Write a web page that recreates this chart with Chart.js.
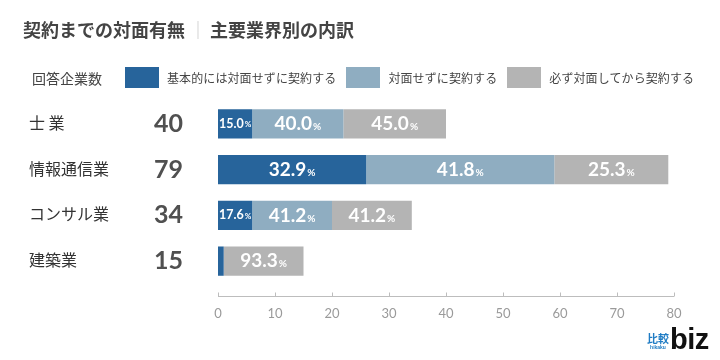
<!DOCTYPE html>
<html>
<head>
<meta charset="utf-8">
<script src="https://cdn.jsdelivr.net/npm/chart.js@4.4.0/dist/chart.umd.min.js"></script>
<style>
  body { margin: 0; background: #fff; }
  #wrap { position: relative; width: 720px; height: 360px; font-family: "Noto Sans CJK JP", sans-serif; }
  #chart { position: absolute; left: 0; top: 0; }
  .title { position: absolute; left: 23px; top: 16px; font-size: 18px; font-weight: bold; color: #444; white-space: nowrap; }
  .title .sep { color: #ccc; font-weight: normal; margin: 0 3px 0 4px; }
  .legend { position: absolute; left: 32px; top: 66px; height: 23px; display: flex; align-items: center; color: #444; white-space: nowrap; }
  .legend .head { font-size: 14px; margin-right: 23px; }
  .legend .box { width: 34px; height: 21px; margin-right: 8px; }
  .legend .txt { font-size: 12px; margin-right: 10px; letter-spacing: 0.1px; }
  .logo { position: absolute; left: 647px; top: 328px; display: flex; align-items: flex-end; }
  .logo .hk { display: flex; flex-direction: column; align-items: center; color: #1f7cc4; font-weight: bold; margin-right: 1px; }
  .logo .hk .kj { font-size: 11px; line-height: 11px; }
  .logo .hk .rm { font-size: 5px; line-height: 6px; font-family: Arial, sans-serif; }
  .logo .bz { font-family: "Liberation Sans", Arial, sans-serif; font-weight: bold; font-size: 29px; line-height: 22px; color: #111; letter-spacing: -0.5px; }
</style>
</head>
<body>
<div id="wrap">
  <canvas id="chart" width="720" height="360"></canvas>
  <div class="title">契約までの対面有無<span class="sep">｜</span>主要業界別の内訳</div>
  <div class="legend" id="legend"></div>
  <div class="logo"><div class="hk"><span class="kj">比較</span><span class="rm">hikaku</span></div><span class="bz">biz</span></div>
</div>
<script>
// 業界と回答企業数
const categories = ['士 業', '情報通信業', 'コンサル業', '建築業'];
const totals = [40, 79, 34, 15];

// 各回答の企業数
const noMeeting = [6, 26, 6, 1];
const noMeetingSometimes = [16, 33, 14, 0];
const alwaysMeeting = [18, 20, 14, 14];

const seriesNames = ['基本的には対面せずに契約する', '対面せずに契約する', '必ず対面してから契約する'];
const seriesColors = ['#27649b', '#8fadc1', '#b4b4b4'];

const xMin = 0;
const xMax = 80;
const xStep = 10;

document.addEventListener('DOMContentLoaded', function() {
    buildLegend();
    drawChart();
});

function buildLegend() {
    const lg = document.getElementById('legend');
    let html = '<span class="head">回答企業数</span>';
    seriesNames.forEach(function(name, i) {
        html += '<span class="box" style="background:' + seriesColors[i] + '"></span>';
        html += '<span class="txt">' + name + '</span>';
    });
    lg.innerHTML = html;
}

// 左側の業界名と企業数
const sideLabels = {
    id: 'sideLabels',
    afterDraw(chart) {
        const ctx = chart.ctx;
        const y = chart.scales.y;
        ctx.save();
        ctx.textBaseline = 'middle';
        categories.forEach(function(cat, i) {
            const py = y.getPixelForValue(i);
            ctx.fillStyle = '#333';
            ctx.textAlign = 'left';
            ctx.font = '16px "Noto Sans CJK JP"';
            ctx.fillText(cat, 29, py - 1);
            ctx.fillStyle = '#505050';
            ctx.textAlign = 'right';
            ctx.font = 'bold 25px Lato, "Open Sans", sans-serif';
            ctx.fillText(String(totals[i]), 183, py);
        });
        ctx.restore();
    }
};

// 棒の中のパーセント表示
const barLabels = {
    id: 'barLabels',
    afterDatasetsDraw(chart) {
        const ctx = chart.ctx;
        ctx.save();
        ctx.fillStyle = '#fff';
        ctx.textBaseline = 'middle';
        chart.data.datasets.forEach(function(ds, di) {
            const meta = chart.getDatasetMeta(di);
            meta.data.forEach(function(bar, i) {
                const v = ds.data[i];
                const pct = v / totals[i] * 100;
                const w = Math.abs(bar.x - bar.base);
                if (!v || w < 25) return;
                const num = pct.toFixed(1);
                const small = w < 50;
                const numFont = small ? 'bold 12.5px Lato, sans-serif' : 'bold 19px Lato, sans-serif';
                const pctFont = small ? 'bold 8px Lato, sans-serif' : 'bold 10px Lato, sans-serif';
                ctx.font = numFont;
                const nw = ctx.measureText(num).width;
                ctx.font = pctFont;
                const pw = ctx.measureText('%').width;
                const cx = (bar.x + bar.base) / 2;
                const sx = cx - (nw + pw + 1) / 2;
                ctx.textAlign = 'left';
                ctx.font = numFont;
                ctx.fillText(num, sx, bar.y);
                ctx.font = pctFont;
                ctx.fillText('%', sx + nw + 1, bar.y + (small ? 1 : 3));
            });
        });
        ctx.restore();
    }
};

// 下の軸線と目盛り
const axisLine = {
    id: 'axisLine',
    afterDraw(chart) {
        const ctx = chart.ctx;
        const x = chart.scales.x;
        const ly = chart.chartArea.bottom + 12.5;
        ctx.save();
        ctx.strokeStyle = '#bdbdbd';
        ctx.lineWidth = 1;
        ctx.beginPath();
        ctx.moveTo(x.getPixelForValue(xMin), ly);
        ctx.lineTo(x.getPixelForValue(xMax), ly);
        x.ticks.forEach(function(t) {
            const px = Math.round(x.getPixelForValue(t.value)) + 0.5;
            ctx.moveTo(px, ly - 4);
            ctx.lineTo(px, ly);
        });
        ctx.stroke();
        ctx.restore();
    }
};

function drawChart() {
    const ctx = document.getElementById('chart');
    const data = {
        labels: categories,
        datasets: [
            { label: seriesNames[0], data: noMeeting, backgroundColor: seriesColors[0] },
            { label: seriesNames[1], data: noMeetingSometimes, backgroundColor: seriesColors[1] },
            { label: seriesNames[2], data: alwaysMeeting, backgroundColor: seriesColors[2] }
        ]
    };
    new Chart(ctx, {
        type: 'bar',
        data: data,
        options: {
            indexAxis: 'y',
            responsive: false,
            animation: false,
            barPercentage: 0.64,
            categoryPercentage: 1,
            layout: { padding: { left: 218, right: 46, top: 101, bottom: 36 } },
            scales: {
                x: {
                    stacked: true,
                    min: xMin,
                    max: xMax,
                    grid: { display: false, drawTicks: false },
                    border: { display: false },
                    ticks: {
                        stepSize: xStep,
                        color: '#9a9a9a',
                        padding: 22,
                        font: { family: 'Lato, sans-serif', size: 13 }
                    },
                    afterFit(scale) { scale.height = 40; }
                },
                y: {
                    stacked: true,
                    display: false
                }
            },
            plugins: {
                legend: { display: false },
                tooltip: { enabled: false }
            }
        },
        plugins: [sideLabels, barLabels, axisLine]
    });
}
</script>
</body>
</html>
